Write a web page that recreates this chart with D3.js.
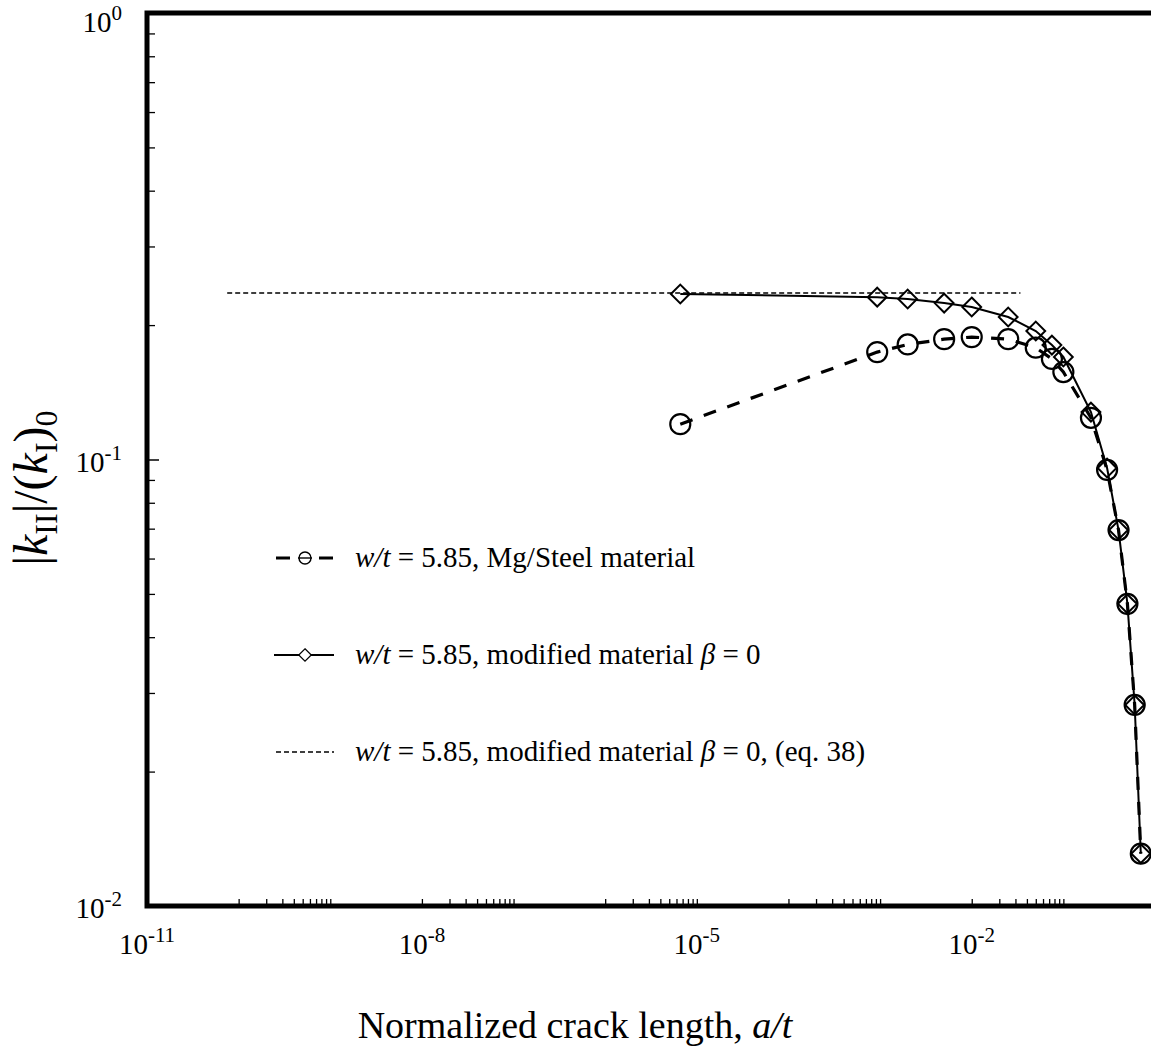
<!DOCTYPE html>
<html>
<head>
<meta charset="utf-8">
<script src="https://cdn.jsdelivr.net/npm/d3@7"></script>
<style>
  body { margin: 0; background: #fff; }
  svg { display: block; font-family: "Liberation Serif", "Times New Roman", serif; }
</style>
</head>
<body>
<svg width="1151" height="1050"></svg>
<script>
// normalized crack length a/t (shared by both FE series)
const crackLength = [6.6e-6, 9.3e-4, 2e-3, 5e-3, 1e-2, 2.5e-2, 5e-2, 7.5e-2, 0.1, 0.2, 0.3, 0.4, 0.5, 0.6, 0.7];
// |kII|/(kI)0, Mg/Steel material
const kMgSteel = [0.120, 0.174, 0.181, 0.186, 0.188, 0.186, 0.178, 0.168, 0.157, 0.124, 0.0948, 0.0695, 0.0475, 0.0282, 0.0131];
// |kII|/(kI)0, modified material beta = 0
const kModified = [0.2348, 0.231, 0.2288, 0.224, 0.2196, 0.2085, 0.194, 0.1804, 0.1697, 0.1277, 0.0957, 0.0695, 0.0475, 0.0282, 0.0131];
// eq. 38 (constant)
const eq38X = [7.5e-11, 0.034];
const eq38Y = [0.236, 0.236];

const xTickExp = [-11, -8, -5, -2];
const yTickExp = [0, -1, -2];
const legendLabels = [
  ["w/t", " = 5.85, Mg/Steel material"],
  ["w/t", " = 5.85, modified material ", "β", " = 0"],
  ["w/t", " = 5.85, modified material ", "β", " = 0, (eq. 38)"]
];

function main(){
  const svg = d3.select("svg");
  const left = 147, right = 1155, top = 13, bottom = 906;

  const x = d3.scaleLog().domain([1e-11, 1]).range([left, right]);
  const y = d3.scaleLog().domain([0.01, 1]).range([bottom, top]);

  // minor ticks on x: Excel-style groups k*10^n, k=1..10
  const xMinor = [];
  [-10, -8, -6, -4, -2].forEach(e => { for (let k = 1; k <= 10; k++) xMinor.push(k * Math.pow(10, e)); });
  const yMinor = [];
  [-2, -1].forEach(e => { for (let k = 2; k <= 9; k++) yMinor.push(k * Math.pow(10, e)); });

  svg.append("g").attr("transform", `translate(0,${bottom})`)
    .call(d3.axisBottom(x).tickValues(xMinor).tickSize(-7).tickFormat(""))
    .call(g => g.select(".domain").remove())
    .call(g => g.selectAll("line").attr("stroke", "#000").attr("stroke-width", 1.3));

  svg.append("g").attr("transform", `translate(${left},0)`)
    .call(d3.axisLeft(y).tickValues(yMinor).tickSize(-8).tickFormat(""))
    .call(g => g.select(".domain").remove())
    .call(g => g.selectAll("line").attr("stroke", "#000").attr("stroke-width", 1.3));

  svg.append("g").attr("transform", `translate(${left},0)`)
    .call(d3.axisLeft(y).tickValues([0.1]).tickSize(-12).tickFormat(""))
    .call(g => g.select(".domain").remove())
    .call(g => g.selectAll("line").attr("stroke", "#000").attr("stroke-width", 1.5));

  // frame
  svg.append("rect").attr("x", left).attr("y", top)
    .attr("width", right - left).attr("height", bottom - top)
    .attr("fill", "none").attr("stroke", "#000").attr("stroke-width", 5);

  // tick labels
  const xl = svg.append("g").selectAll("text").data(xTickExp).enter().append("text")
    .attr("x", d => x(Math.pow(10, d))).attr("y", 954)
    .attr("text-anchor", "middle").attr("font-size", 29);
  xl.append("tspan").text("10");
  xl.append("tspan").attr("dy", -12).attr("font-size", 21).text(d => d);

  // top label is pushed down so it stays inside the page
  const yl = svg.append("g").selectAll("text").data(yTickExp).enter().append("text")
    .attr("x", 122).attr("y", d => d === 0 ? 32 : y(Math.pow(10, d)) + 12)
    .attr("text-anchor", "end").attr("font-size", 29);
  yl.append("tspan").text("10");
  yl.append("tspan").attr("dy", -12).attr("font-size", 21).text(d => d);

  // axis titles
  const xt = svg.append("text").attr("x", 575).attr("y", 1038)
    .attr("text-anchor", "middle").attr("font-size", 38);
  xt.append("tspan").text("Normalized crack length, ");
  xt.append("tspan").attr("font-style", "italic").text("a/t");

  const yt = svg.append("text").attr("transform", "translate(47,488) rotate(-90)")
    .attr("text-anchor", "middle").attr("font-size", 48);
  yt.append("tspan").text("|");
  yt.append("tspan").attr("font-style", "italic").text("k");
  yt.append("tspan").attr("font-size", 32).attr("dy", 10).text("II");
  yt.append("tspan").attr("dy", -10).text("|/(");
  yt.append("tspan").attr("font-style", "italic").text("k");
  yt.append("tspan").attr("font-size", 32).attr("dy", 10).text("I");
  yt.append("tspan").attr("dy", -10).text(")");
  yt.append("tspan").attr("font-size", 32).attr("dy", 10).text("0");

  const line = d3.line().x(d => x(d[0])).y(d => y(d[1]));
  const mg = d3.zip(crackLength, kMgSteel);
  const mod = d3.zip(crackLength, kModified);

  // eq. 38
  svg.append("path").datum(d3.zip(eq38X, eq38Y)).attr("d", line)
    .attr("fill", "none").attr("stroke", "#000").attr("stroke-width", 1.6)
    .attr("stroke-dasharray", "5,3");

  // modified material
  svg.append("path").datum(mod).attr("d", line)
    .attr("fill", "none").attr("stroke", "#000").attr("stroke-width", 2);
  const diamond = d3.symbol().type(d3.symbolDiamond2).size(225);
  svg.append("g").selectAll("path").data(mod).enter().append("path")
    .attr("d", diamond)
    .attr("transform", d => `translate(${x(d[0])},${y(d[1])})`)
    .attr("fill", "none").attr("stroke", "#000").attr("stroke-width", 2);

  // Mg/Steel
  svg.append("path").datum(mg).attr("d", line)
    .attr("fill", "none").attr("stroke", "#000").attr("stroke-width", 3.2)
    .attr("stroke-dasharray", "13,12");
  svg.append("g").selectAll("circle").data(mg).enter().append("circle")
    .attr("cx", d => x(d[0])).attr("cy", d => y(d[1])).attr("r", 10)
    .attr("fill", "none").attr("stroke", "#000").attr("stroke-width", 2.2);

  // legend
  const rows = [558, 655, 752];
  const lg = svg.append("g");
  lg.append("line").attr("x1", 276).attr("x2", 333).attr("y1", rows[0]).attr("y2", rows[0])
    .attr("stroke", "#000").attr("stroke-width", 3.2).attr("stroke-dasharray", "14,29");
  lg.append("circle").attr("cx", 305).attr("cy", rows[0]).attr("r", 6)
    .attr("fill", "none").attr("stroke", "#000").attr("stroke-width", 1.4);
  lg.append("line").attr("x1", 298).attr("x2", 312).attr("y1", rows[0]).attr("y2", rows[0])
    .attr("stroke", "#000").attr("stroke-width", 1.4);

  lg.append("line").attr("x1", 274).attr("x2", 334).attr("y1", rows[1]).attr("y2", rows[1])
    .attr("stroke", "#000").attr("stroke-width", 2);
  lg.append("path").attr("d", d3.symbol().type(d3.symbolDiamond2).size(100))
    .attr("transform", `translate(305,${rows[1]})`)
    .attr("fill", "#fff").attr("stroke", "#000").attr("stroke-width", 1.2);

  lg.append("line").attr("x1", 276).attr("x2", 334).attr("y1", rows[2]).attr("y2", rows[2])
    .attr("stroke", "#000").attr("stroke-width", 1.6).attr("stroke-dasharray", "5,3");

  legendLabels.forEach((parts, i) => {
    const t = lg.append("text").attr("x", 355).attr("y", rows[i] + 9).attr("font-size", 29);
    parts.forEach(p => {
      const s = t.append("tspan").text(p);
      if (p === "w/t" || p === "β") s.attr("font-style", "italic");
    });
  });
}

main();
</script>
</body>
</html>
